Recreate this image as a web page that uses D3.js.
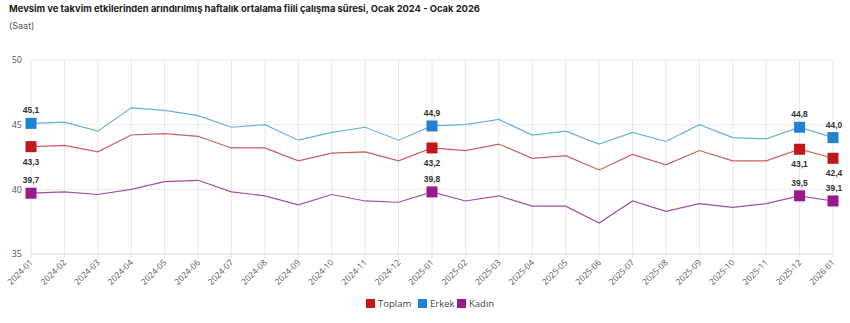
<!DOCTYPE html>
<html><head><meta charset="utf-8">
<script src="https://cdn.jsdelivr.net/npm/d3@7"></script>
<style>body{margin:0;background:#fff;} svg{display:block;}</style>
</head><body>
<svg id="chart" width="850" height="323"></svg>
<script>
const months = ["2024-01","2024-02","2024-03","2024-04","2024-05","2024-06","2024-07","2024-08","2024-09","2024-10","2024-11","2024-12","2025-01","2025-02","2025-03","2025-04","2025-05","2025-06","2025-07","2025-08","2025-09","2025-10","2025-11","2025-12","2026-01"];
const toplam = [43.3,43.4,42.9,44.2,44.3,44.1,43.2,43.2,42.2,42.8,42.9,42.2,43.2,43.0,43.5,42.4,42.6,41.5,42.7,41.9,43.0,42.2,42.2,43.1,42.4];
const erkek  = [45.1,45.2,44.5,46.3,46.1,45.7,44.8,45.0,43.8,44.4,44.8,43.8,44.9,45.0,45.4,44.2,44.5,43.5,44.4,43.7,45.0,44.0,43.9,44.8,44.0];
const kadin  = [39.7,39.8,39.6,40.0,40.6,40.7,39.8,39.5,38.8,39.6,39.1,39.0,39.8,39.1,39.5,38.7,38.7,37.4,39.1,38.3,38.9,38.6,38.9,39.5,39.1];
const yTicks = [35,40,45,50];
const labelled = ["2024-01","2025-01","2025-12","2026-01"];
const seriesNames = ["Toplam","Erkek","Kadın"];
const title = "Mevsim ve takvim etkilerinden arındırılmış haftalık ortalama fiili çalışma süresi, Ocak 2024 - Ocak 2026";
const subtitle = "(Saat)";

const series = [
  {name:"Toplam", values:toplam, line:"#c9605f", mark:"#c0161c", labelPos:"below"},
  {name:"Erkek", values:erkek, line:"#6cb0d6", mark:"#1f82d2", labelPos:"above"},
  {name:"Kadın", values:kadin, line:"#a0509c", mark:"#9a1a8c", labelPos:"above"}
];

const svg = d3.select("#chart");
const x = d3.scalePoint().domain(months).range([31, 833]);
const y = d3.scaleLinear().domain([35,50]).range([254, 60]);

svg.append("text").attr("x",9).attr("y",12).attr("font-family","Inter, 'Liberation Sans', sans-serif")
  .attr("font-size","9.4px").attr("font-weight","700").attr("fill","#222").text(title);
svg.append("text").attr("x",9).attr("y",29).attr("font-family","Inter, 'Liberation Sans', sans-serif")
  .attr("font-size","9px").attr("fill","#555").text(subtitle);

// grid
const g = svg.append("g");
g.selectAll(".vg").data(months).join("line")
  .attr("x1",d=>x(d)).attr("x2",d=>x(d)).attr("y1",y(50)).attr("y2",y(35)+4)
  .attr("stroke","#e8e8e8").attr("stroke-width",1);
g.selectAll(".hg").data(yTicks).join("line")
  .attr("x1",x(months[0])).attr("x2",x(months[months.length-1])).attr("y1",d=>y(d)).attr("y2",d=>y(d))
  .attr("stroke",d=>d===35?"#dcdcdc":"#ebebeb").attr("stroke-width",1);

// y axis labels
const yAxis = d3.axisLeft(y).tickValues(yTicks).tickSize(0).tickPadding(9);
const ya = svg.append("g").attr("transform",`translate(${x(months[0])},0)`).call(yAxis);
ya.select(".domain").remove();
ya.selectAll("text").attr("font-family","'Open Sans', sans-serif").attr("font-size","9px").attr("fill","#555");

// x axis labels
const xAxis = d3.axisBottom(x).tickSize(0).tickPadding(0);
const xa = svg.append("g").attr("transform",`translate(0,${y(35)})`).call(xAxis);
xa.select(".domain").remove();
xa.selectAll("text").attr("font-family","'Open Sans', sans-serif").attr("font-size","8.5px").attr("fill","#555")
  .attr("text-anchor","end").attr("dy","0").attr("y",0)
  .attr("transform","translate(2,9) rotate(-45)");

// lines
const line = d3.line().x((d,i)=>x(months[i])).y(d=>y(d));
series.forEach(s=>{
  svg.append("path").datum(s.values).attr("d",line).attr("fill","none")
    .attr("stroke",s.line).attr("stroke-width",1.2);
});
// markers + labels
series.forEach(s=>{
  const pts = labelled.map(m=>({m, v:s.values[months.indexOf(m)]}));
  svg.selectAll(null).data(pts).join("rect")
    .attr("x",d=>x(d.m)-5.5).attr("y",d=>y(d.v)-5.5).attr("width",11).attr("height",11)
    .attr("fill",s.mark);
  svg.selectAll(null).data(pts).join("text")
    .attr("x",d=>x(d.m)+(d.m==="2026-01"?1:0)).attr("y",d=>s.labelPos==="above"?y(d.v)-10:y(d.v)+18)
    .attr("text-anchor","middle").attr("font-family","'Liberation Sans', Arial, sans-serif")
    .attr("font-size","8.5px").attr("font-weight","700").attr("fill","#333")
    .text(d=>d3.format(".1f")(d.v).replace(".",","));
});

// legend
const legend = svg.append("g").attr("transform","translate(366,299)");
const legX = [0,52,91];
seriesNames.forEach((n,i)=>{
  const s = series[i];
  legend.append("rect").attr("x",legX[i]).attr("y",0).attr("width",9).attr("height",9).attr("fill",s.mark);
  legend.append("text").attr("x",legX[i]+12).attr("y",8).attr("font-family","'Open Sans', sans-serif")
    .attr("font-size","9.5px").attr("fill","#444").text(n);
});
</script>
</body></html>
